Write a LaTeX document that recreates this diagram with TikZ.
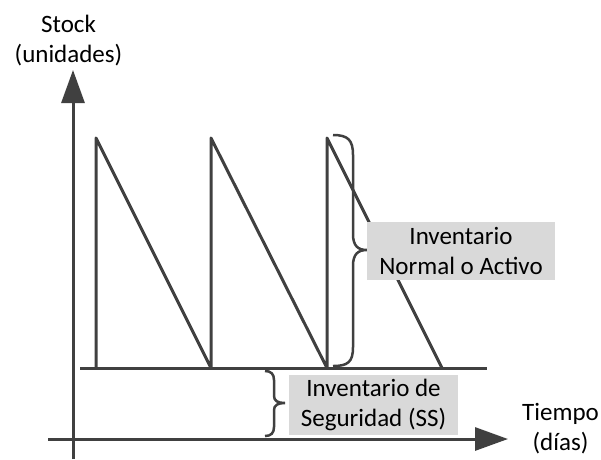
\documentclass[tikz,border=0pt]{standalone}
\usepackage{fontspec}
\setmainfont{Carlito}
\usetikzlibrary{arrows.meta}
\definecolor{ln}{HTML}{404040}
\definecolor{bx}{HTML}{D9D9D9}
\begin{document}
\begin{tikzpicture}[x=1pt,y=-1pt,
  ax/.style={draw=ln,line width=3pt,-{Triangle[length=33pt,width=23pt]}},
  ln/.style={draw=ln,line width=3pt,line join=round},
  br/.style={draw=ln,line width=2.5pt},
  lbl/.style={font=\fontsize{25}{30}\selectfont,align=center,inner sep=0pt},
  boxlbl/.style={lbl,fill=bx,minimum width=#1}]
\useasboundingbox (0,0) rectangle (601,459);
% axes
\coordinate (yb) at (73,459);
\coordinate (yt) at (73,70);
\coordinate (xl) at (48,439);
\coordinate (xr) at (508,439);
\draw[ax] (yb) -- (yt);
\draw[ax] (xl) -- (xr);
% safety stock line
\coordinate (sl) at (80,368);
\coordinate (sr) at (487,368);
\draw[ln] (sl) -- (sr);
% sawtooth
\coordinate (b1) at (96,368);  \coordinate (t1) at (96,138);
\coordinate (b2) at (211,368); \coordinate (t2) at (211,138);
\coordinate (b3) at (327,368); \coordinate (t3) at (327,138);
\coordinate (b4) at (442,368);
\draw[ln] (b1) -- (t1) -- (b2) -- (t2) -- (b3) -- (t3) -- (b4);
% brace normal
\draw[br] (333,135) .. controls (348,135) and (353,140) .. (353,155) -- (353,234)
  .. controls (353,246) and (358,250) .. (367,250)
  .. controls (358,250) and (353,254) .. (353,266) -- (353,347)
  .. controls (353,362) and (348,366) .. (333,366);
% brace SS
\draw[br] (265,371) .. controls (271,371) and (274,374) .. (274,380) -- (274,396)
  .. controls (274,401) and (278,403) .. (285,403)
  .. controls (278,403) and (274,405) .. (274,410) -- (274,427)
  .. controls (274,433) and (271,436) .. (265,436);
% labels
\node[boxlbl=188pt,minimum height=58pt] (na) at (461,251) {Inventario\\Normal o Activo};
\node[boxlbl=169pt,minimum height=60pt] (ss) at (373.5,405) {Inventario de\\Seguridad (SS)};
\node[lbl,anchor=base] (st) at (68.5,62) {Stock\\(unidades)};
\node[lbl,anchor=base] (ti) at (560.5,450) {Tiempo\\(días)};
\end{tikzpicture}
\end{document}
